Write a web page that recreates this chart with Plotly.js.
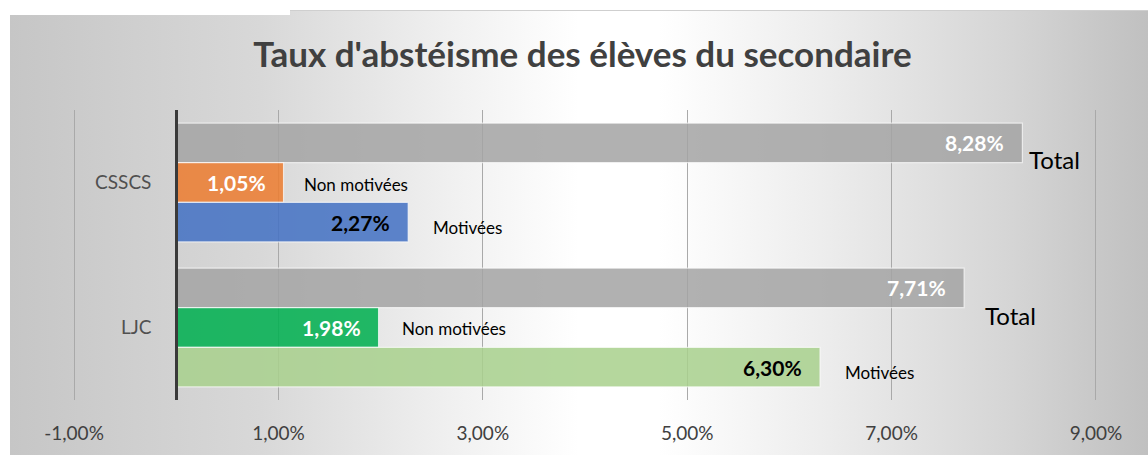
<!DOCTYPE html>
<html>
<head>
<meta charset="utf-8">
<script src="https://cdn.plot.ly/plotly-3.0.1.min.js"></script>
<style>
html,body{margin:0;padding:0;background:#ffffff;width:1148px;height:455px;overflow:hidden;}
#bg{position:absolute;left:10px;top:11px;width:1138px;height:444px;
  background:linear-gradient(90deg,#c6c6c6 0%,#d8d8d8 22%,#f2f2f2 40%,#ffffff 50%,#ffffff 57%,#ececec 72%,#d5d5d5 88%,#c0c0c0 100%);}
#topmask{position:absolute;left:0;top:0;width:290px;height:15px;background:#ffffff;}
#topline{position:absolute;left:290px;top:10px;width:858px;height:1px;background:#cfcfcf;}
#chart{position:absolute;left:0;top:0;width:1148px;height:455px;}
</style>
</head>
<body>
<div id="bg"></div><div id="topmask"></div><div id="topline"></div>
<div id="chart"></div>
<script>
// ---------- data ----------
const chartTitle = "Taux d'abstéisme des élèves du secondaire";
const categories = ["CSSCS", "LJC"];
const seriesNames = ["Total", "Non motivées", "Motivées"];
const totalValues = [8.28, 7.71];
const nonMotiveesValues = [1.05, 1.98];
const motiveesValues = [2.27, 6.30];
const tickValues = [-1, 1, 3, 5, 7, 9];
const tickLabels = ["-1,00%", "1,00%", "3,00%", "5,00%", "7,00%", "9,00%"];

// ---------- styles ----------
const FONT = "Lato, 'Open Sans', sans-serif";
const seriesStyles = [
  {colors: ["#a5a5a5", "#a5a5a5"], textColors: ["#ffffff", "#ffffff"], labelSize: 24,
   labelShift: [[5, -17], [19, -28]]},
  {colors: ["#ed7d31", "#00b050"], textColors: ["#ffffff", "#ffffff"], labelSize: 17,
   labelShift: [[18, -2], [21, -1]]},
  {colors: ["#4472c4", "#a9d18e"], textColors: ["#000000", "#000000"], labelSize: 17,
   labelShift: [[23, -5], [23, -5]]}
];
const seriesValues = [totalValues, nonMotiveesValues, motiveesValues];
const bargap = 0.18;
const barW = (1 - bargap) / seriesValues.length;
const xRange = [-1.02, 9.02];

function fmt(v) { return v.toFixed(2).replace(".", ",") + "%"; }

const data = seriesValues.map((vals, i) => ({
  type: "bar",
  orientation: "h",
  name: seriesNames[i],
  y: categories,
  x: vals,
  marker: {color: seriesStyles[i].colors, opacity: 0.86,
           line: {color: "rgba(255,255,255,0.75)", width: 1.2}},
  hoverinfo: "skip"
}));

const annotations = [];
seriesValues.forEach((vals, i) => {
  const st = seriesStyles[i];
  vals.forEach((v, j) => {
    const yPos = j + (i - (seriesValues.length - 1) / 2) * barW;
    annotations.push({
      x: v, y: yPos, xref: "x", yref: "y", xanchor: "right", yanchor: "middle",
      xshift: -16, showarrow: false, text: fmt(v),
      font: {family: FONT, size: 21, color: st.textColors[j], weight: "bold"}
    });
    annotations.push({
      x: v, y: yPos, xref: "x", yref: "y", xanchor: "left", yanchor: "middle",
      xshift: st.labelShift[j][0], yshift: st.labelShift[j][1], showarrow: false,
      text: seriesNames[i],
      font: {family: FONT, size: st.labelSize, color: "#000000"}
    });
  });
});

const layout = {
  width: 1148, height: 455,
  margin: {l: 72, r: 50, t: 110, b: 55, pad: 0},
  paper_bgcolor: "rgba(0,0,0,0)", plot_bgcolor: "rgba(0,0,0,0)",
  barmode: "group", bargap: bargap, bargroupgap: 0,
  showlegend: false,
  title: {text: chartTitle, x: 0.5074, xanchor: "center", xref: "container",
          y: 1 - 55 / 455, yanchor: "middle", yref: "container",
          font: {family: FONT, size: 35, color: "#404040", weight: "bold"}},
  xaxis: {range: xRange, tickmode: "array", tickvals: tickValues, ticktext: tickLabels,
          showgrid: true, gridcolor: "#a9a9a9", gridwidth: 1,
          zeroline: false,
          showline: false, ticks: "outside", ticklen: 16, tickcolor: "rgba(0,0,0,0)",
          tickfont: {family: FONT, size: 19, color: "#404040"}, fixedrange: true},
  yaxis: {type: "category", categoryarray: categories, categoryorder: "array",
          range: [1.5, -0.5], anchor: "free",
          position: (0 - xRange[0]) / (xRange[1] - xRange[0]),
          showgrid: false, zeroline: false,
          showline: true, linecolor: "#3a3a3a", linewidth: 3, layer: "above traces",
          ticks: "outside", ticklen: 20, tickcolor: "rgba(0,0,0,0)",
          tickfont: {family: FONT, size: 19, color: "#505050"}, fixedrange: true},
  annotations: annotations
};

Plotly.newPlot("chart", data, layout, {displayModeBar: false, staticPlot: true});
</script>
</body>
</html>
